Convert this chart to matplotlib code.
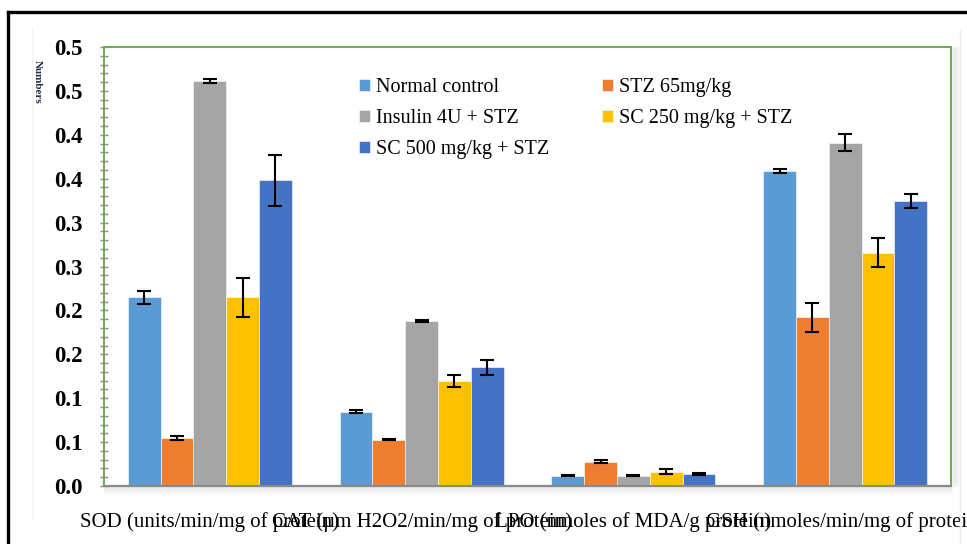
import numpy as np
import matplotlib
matplotlib.use('Agg')
import matplotlib.pyplot as plt
from matplotlib.lines import Line2D
from matplotlib.patches import Rectangle

plt.rcParams['font.family'] = ['Liberation Serif', 'DejaVu Serif']

categories = ['SOD (units/min/mg of protein)', 'CAT (µm H2O2/min/mg of protein)',
              'LPO (nmoles of MDA/g protein)', 'GSH (nmoles/min/mg of protein)']
groups = ['Normal control', 'STZ 65mg/kg', 'Insulin 4U + STZ',
          'SC 250 mg/kg + STZ', 'SC 500 mg/kg + STZ']
colors = ['#5B9BD5', '#ED7D31', '#A5A5A5', '#FFC000', '#4472C4']

normal = [0.215, 0.0846, 0.0118, 0.359]
stz = [0.055, 0.0528, 0.0277, 0.192]
insulin = [0.4616, 0.188, 0.0118, 0.391]
sc250 = [0.215, 0.1196, 0.0163, 0.2657]
sc500 = [0.348, 0.135, 0.014, 0.3246]

normal_err = [0.0074, 0.0017, 0.0005, 0.0026]
stz_err = [0.0025, 0.0005, 0.0015, 0.0165]
insulin_err = [0.0025, 0.001, 0.0005, 0.0095]
sc250_err = [0.022, 0.007, 0.0027, 0.0165]
sc500_err = [0.0287, 0.008, 0.001, 0.0083]

ytick_vals = [0.0, 0.05, 0.1, 0.15, 0.2, 0.25, 0.3, 0.35, 0.4, 0.45, 0.5]
ytick_labels = ['0.0', '0.1', '0.1', '0.2', '0.2', '0.3', '0.3', '0.4', '0.4', '0.5', '0.5']

values = [normal, stz, insulin, sc250, sc500]
errors = [normal_err, stz_err, insulin_err, sc250_err, sc500_err]

fig = plt.figure(figsize=(9.67, 5.44), dpi=100)
ax = fig.add_axes([0.1075, 0.1066, 0.876, 0.807])

x = np.arange(len(categories))
w = 0.155
bars = []
for i in range(len(groups)):
    pos = x + (i - 2) * w
    b = ax.bar(pos, values[i], w, color=colors[i], edgecolor='#ffffff', linewidth=0.4,
               label=groups[i], zorder=2)
    bars.append(b)
    ax.errorbar(pos, values[i], yerr=errors[i], fmt='none', ecolor='black',
                elinewidth=1.5, capsize=5, capthick=1.5, zorder=3)

ax.set_xlim(-0.5, 3.5)
ax.set_ylim(0, 0.5)
ax.set_yticks(ytick_vals)
ax.set_yticklabels(ytick_labels, fontsize=16.5, fontweight='bold')
ax.set_yticks(np.arange(0, 0.501, 0.01), minor=True)
ax.tick_params(axis='y', which='both', direction='inout', length=6, width=1,
               color='#8c8c8c', pad=12)
ax.set_xticks(x)
ax.set_xticklabels(categories, fontsize=15)
ax.tick_params(axis='x', length=0, pad=19)

for s in ['left', 'top', 'right']:
    ax.spines[s].set_color('#70AD47')
    ax.spines[s].set_linewidth(1.4)
ax.spines['left'].set_zorder(0.5)
ax.spines['bottom'].set_color('#8c8c8c')
ax.spines['bottom'].set_linewidth(1.6)

# legend filled row by row
order = [0, 2, 4, 1, 3]
leg = ax.legend([bars[i] for i in order], [groups[i] for i in order],
                ncol=2, loc='upper left', bbox_to_anchor=(0.28, 0.97), frameon=False,
                fontsize=14.5, handlelength=0.55, handleheight=0.55, handletextpad=0.3,
                columnspacing=2.6, labelspacing=0.6)

# drop shadow below and to the right of the plot area
W, H = 967, 544
for k in range(1, 10):
    a = 0.05 * (10 - k) / 9
    fig.patches.append(Rectangle((104 / W, (H - 486 - k) / H), (851 - 104 + 100) / W, 1 / H,
                                 transform=fig.transFigure, color='gray', alpha=a, zorder=0))
    fig.patches.append(Rectangle(((951 + k) / W, (H - 486) / H), 1 / W, (486 - 47) / H,
                                 transform=fig.transFigure, color='gray', alpha=a, zorder=0))

fig.text(37 / W, 1 - 82 / H, 'Numbers', rotation=-90, fontsize=8,
         fontweight='bold', color='#1f2a44', ha='center', va='center')

# outer frame lines
fig.add_artist(Line2D([8 / W, 1], [1 - 12 / H, 1 - 12 / H], color='black', lw=2.4))
fig.add_artist(Line2D([8 / W, 8 / W], [0, 1 - 12 / H], color='black', lw=2.4))
fig.add_artist(Line2D([960 / W, 960 / W], [0, 1 - 30 / H], color='#eeeeee', lw=1))
fig.add_artist(Line2D([32 / W, 32 / W], [1 - 520 / H, 1 - 28 / H], color='#f2f2f2', lw=1))

fig.savefig('out.png', dpi=100)
